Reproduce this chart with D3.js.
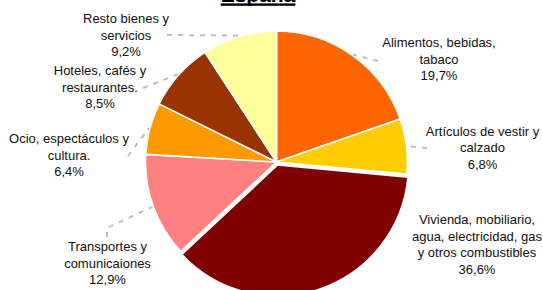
<!DOCTYPE html>
<html>
<head>
<meta charset="utf-8">
<script src="https://cdn.jsdelivr.net/npm/d3@7"></script>
<style>
body{margin:0;background:#fff;overflow:hidden}
</style>
</head>
<body>
<div id="viz"></div>
<script>
//Chart data

let categories = [["Alimentos, bebidas,","tabaco"],
                  ["Artículos de vestir y","calzado"],
                  ["Vivienda, mobiliario,","agua, electricidad, gas","y otros combustibles"],
                  ["Transportes y","comunicaiones"],
                  ["Ocio, espectáculos y","cultura."],
                  ["Hoteles, cafés y","restaurantes."],
                  ["Resto bienes y","servicios"]]

let shares = [19.7, 6.8, 36.6, 12.9, 6.4, 8.5, 9.2]

let colors = ["#FF6600","#FFCC00","#800000","#FF8080","#FF9900","#993300","#FFFF99"]

//Layout settings (label anchor = text centre x, first baseline y, leader outer point)
let width = 543
let height = 290
let cx = 276.5
let cy = 162
let radius = 131
let lineH = 16.5

let labelPos = [[439,47],[482.5,135.5],[477,224],[107.5,251],[69,143],[100,75],[126,23]]
let leaderEnd = [[[378,61]],[[427,148]],[],[[107,237],[107,228]],[[128,156]],[[143,88]],[[167,35]]]
let explode = [0,0,3.2,0,0,0,0]

let fmt = d3.formatLocale({decimal:",",thousands:".",grouping:[3],currency:["","€"]}).format(".1f")

//Create SVG
let svg = d3.select('#viz').append('svg').attr("width",width).attr("height",height)

//Title
let title = svg.append("text").text("España").attr("text-anchor","middle")
    .attr("x",258).attr("y",1.5).attr("font-family","Liberation Sans, Arial, sans-serif")
    .attr("font-weight","bold").attr("font-size",21).attr("fill","#000")
let tw = title.node().getComputedTextLength()
svg.append("rect").attr("x",258-tw/2).attr("y",3.4).attr("width",tw).attr("height",2.4).attr("fill","#000")

//Pie
let pie = d3.pie().sort(null).value(d=>d)
let arcs = pie(shares)
let arc = d3.arc().innerRadius(0).outerRadius(radius)

let g = svg.append("g").attr("transform",`translate(${cx},${cy})`)

g.selectAll("path").data(arcs).enter().append("path")
    .attr("d",arc)
    .attr("fill",(d,i)=>colors[i])
    .attr("stroke","#fff").attr("stroke-width",1.6).attr("stroke-linejoin","round")
    .attr("transform",(d,i)=>{
        let a = (d.startAngle+d.endAngle)/2
        return `translate(${explode[i]*Math.sin(a)},${-explode[i]*Math.cos(a)})`
    })

//Leader lines
let line = d3.line()
for(let i=0;i<arcs.length;i++){
    if(leaderEnd[i].length==0){continue}
    let a = (arcs[i].startAngle+arcs[i].endAngle)/2
    let inner = [cx+(radius+1)*Math.sin(a), cy-(radius+1)*Math.cos(a)]
    let pts = leaderEnd[i].concat([inner])
    svg.append("path").attr("d",line(pts)).attr("fill","none")
        .attr("stroke","#BFBFBF").attr("stroke-width",2).attr("stroke-dasharray","5,6")
}

//Labels
for(let i=0;i<categories.length;i++){
    let lines = categories[i].concat([fmt(shares[i])+"%"])
    let t = svg.append("text").attr("text-anchor","middle")
        .attr("font-family","Liberation Sans, Arial, sans-serif").attr("font-size",13).attr("fill","#111")
    lines.forEach((s,k)=>{
        t.append("tspan").text(s).attr("x",labelPos[i][0]).attr("y",labelPos[i][1]+k*lineH)
    })
}
</script>
</body>
</html>
